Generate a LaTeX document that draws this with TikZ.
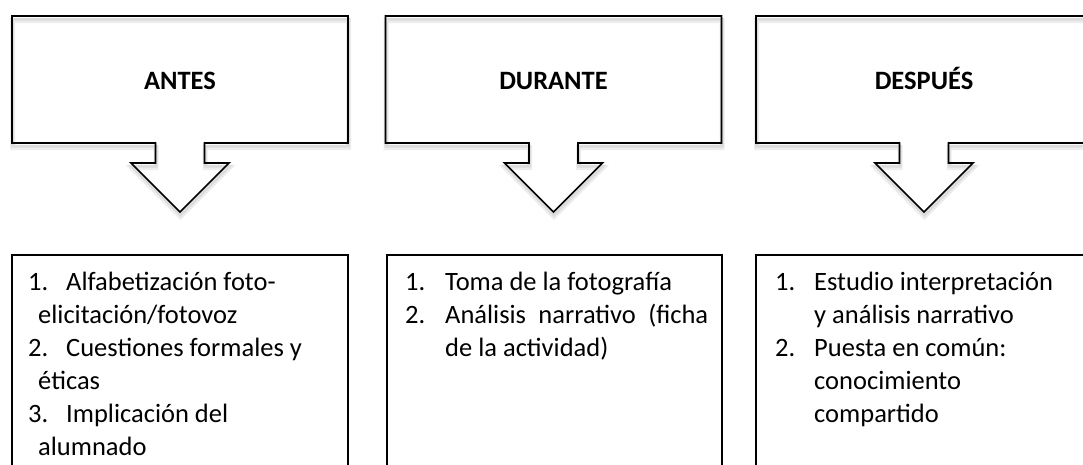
\documentclass[tikz,border=0pt]{standalone}
\usepackage{fontspec}
\setmainfont{Carlito}
\begin{document}
\begin{tikzpicture}[x=1pt,y=-1pt,
  outline/.style={draw=black, line width=1.6pt, line join=miter},
  shadowline/.style={draw=black, line width=#1, opacity=0.07},
  listbox/.style={draw=black, line width=1.4pt},
  title/.style={font=\fontsize{26.5}{31}\selectfont\bfseries, inner sep=0pt, anchor=base},
  item/.style={font=\fontsize{26.5}{33}\selectfont, inner sep=0pt, anchor=base west}]
\useasboundingbox (0,0) rectangle (1083,464);
\clip (0,0) rectangle (1083,464);
\fill[white] (0,0) rectangle (1083,464);
% callout outlines
\def\calloutpath#1{({#1-168},16) -- ({#1+168},16) -- ({#1+168},143) -- ({#1+24.5},143) -- ({#1+24.5},163) -- ({#1+49},163) -- (#1,212) -- ({#1-49},163) -- ({#1-24.5},163) -- ({#1-24.5},143) -- ({#1-168},143) -- cycle}
\foreach \c in {180,553.5,924}{
  \draw[shadowline=5pt, shift={(0.5,4.5)}] \calloutpath{\c};
  \draw[shadowline=3pt, shift={(0.5,3)}] \calloutpath{\c};
  \draw[outline] \calloutpath{\c};
}
% titles
\node[title] (tA) at (180,89) {ANTES};
\node[title] (tD) at (553.5,89) {DURANTE};
\node[title] (tP) at (924,89) {DESPUÉS};
% list boxes
\draw[listbox] (12,480) -- (12,255) -- (348,255) -- (348,480);
\draw[listbox] (387,480) -- (387,255) -- (722,255) -- (722,480);
\draw[listbox] (756,480) -- (756,255) -- (1100,255);
% ANTES list
\node[item] (a1n) at (28,290) {1.};
\node[item] (a1t) at (66,290) {Alfabetización foto-};
\node[item] (a1c) at (38,323) {elicitación/fotovoz};
\node[item] (a2n) at (28,356) {2.};
\node[item] (a2t) at (66,356) {Cuestiones formales y};
\node[item] (a2c) at (38,389) {éticas};
\node[item] (a3n) at (28,422) {3.};
\node[item] (a3t) at (66,422) {Implicación del};
\node[item] (a3c) at (38,455) {alumnado};
% DURANTE list
\node[item] (d1n) at (405,290) {1.};
\node[item] (d1t) at (445,290) {Toma de la fotografía};
\node[item] (d2n) at (405,323) {2.};
\node[item] (d2t) at (445,323) {\makebox[263pt][s]{Análisis narrativo (ficha}};
\node[item] (d2c) at (445,356) {de la actividad)};
% DESPUÉS list
\node[item] (p1n) at (775,290) {1.};
\node[item] (p1t) at (814,290) {Estudio interpretación};
\node[item] (p1c) at (814,323) {y análisis narrativo};
\node[item] (p2n) at (775,356) {2.};
\node[item] (p2t) at (814,356) {Puesta en común:};
\node[item] (p2c) at (814,389) {conocimiento};
\node[item] (p2d) at (814,422) {compartido};
\end{tikzpicture}
\end{document}
